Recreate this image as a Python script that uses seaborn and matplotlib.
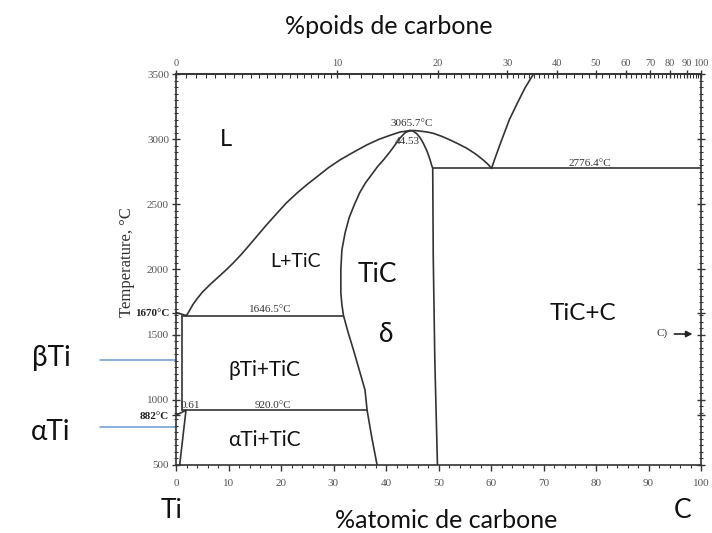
import numpy as np
import pandas as pd
import matplotlib
matplotlib.use("Agg")
import matplotlib.pyplot as plt
import seaborn as sns
from matplotlib.ticker import MultipleLocator, FixedLocator

# Ti–C phase boundaries (at.% C, temperature °C)
liquidus_at = [2.0, 2.5, 3.2, 4.0, 5.0, 6.5, 8.0, 9.5, 10.9, 12.3, 13.5, 15.4, 17.3, 19.2,
               21.0, 23.0, 24.9, 26.8, 29.0, 31.2, 33.8, 36.3, 38.6, 40.8, 42.7, 44.53]
liquidus_T = [1646.5, 1680, 1730, 1775, 1825, 1885, 1940, 1995, 2050, 2110, 2165, 2255, 2345, 2430,
              2510, 2585, 2650, 2710, 2780, 2840, 2900, 2955, 2998, 3030, 3055, 3065.7]

dome_right_at = [44.53, 45.5, 46.5, 47.8, 49.0, 50.6, 52.2, 53.8, 55.4, 57.0, 58.5, 59.4, 60.1]
dome_right_T = [3065.7, 3066, 3062, 3055, 3045, 3022, 2994, 2963, 2930, 2888, 2841, 2808, 2776.4]

graphite_liq_at = [60.1, 61.0, 62.0, 63.5, 65.0, 66.5, 68.1]
graphite_liq_T = [2776.4, 2880, 2990, 3150, 3275, 3395, 3500]

tic_left_at = [38.3, 37.3, 36.4, 36.0, 34.9, 33.8, 32.8, 31.9, 31.6, 31.4, 31.4, 31.6, 32.2, 33.0,
               34.0, 35.0, 36.1, 37.3, 38.4, 39.5, 40.7, 41.8, 42.7, 43.6, 44.53]
tic_left_T = [500, 710, 920, 1076, 1230, 1383, 1515, 1646.5, 1730, 1820, 2000, 2150, 2280, 2400,
              2500, 2590, 2665, 2730, 2790, 2840, 2900, 2960, 3010, 3048, 3065.7]

tic_right_at = [44.53, 45.2, 45.9, 46.6, 47.1, 47.8, 48.4, 48.7, 48.9, 49.0, 49.3, 49.8]
tic_right_T = [3065.7, 3062, 3040, 3005, 2969, 2910, 2841, 2800, 2776.4, 2100, 1300, 500]

eutectic_at = [48.9, 100.0]
eutectic_T = [2776.4, 2776.4]
peritectic_at = [1.1, 31.9]
peritectic_T = [1646.5, 1646.5]
peritectoid_at = [1.1, 36.4]
peritectoid_T = [920.0, 920.0]
beta_solvus_at = [1.1, 1.1]
beta_solvus_T = [1646.5, 920.0]
alpha_solvus_at = [1.9, 0.7]
alpha_solvus_T = [920.0, 500.0]
beta_transus_at = [0.0, 1.9]
beta_transus_T = [882.0, 920.0]
melt_foot_at = [0.0, 2.0]
melt_foot_T = [1670.0, 1646.5]

# reference temperatures marked beside the Ti allotrope names
beta_ref_T = 1306
alpha_ref_T = 792

boundaries = {
    "liquidus": (liquidus_at, liquidus_T),
    "dome_right": (dome_right_at, dome_right_T),
    "graphite_liq": (graphite_liq_at, graphite_liq_T),
    "tic_left": (tic_left_at, tic_left_T),
    "tic_right": (tic_right_at, tic_right_T),
    "eutectic": (eutectic_at, eutectic_T),
    "peritectic": (peritectic_at, peritectic_T),
    "peritectoid": (peritectoid_at, peritectoid_T),
    "beta_solvus": (beta_solvus_at, beta_solvus_T),
    "alpha_solvus": (alpha_solvus_at, alpha_solvus_T),
    "beta_transus": (beta_transus_at, beta_transus_T),
    "melt_foot": (melt_foot_at, melt_foot_T),
}
frames = [pd.DataFrame({"at": a, "T": t, "boundary": k}) for k, (a, t) in boundaries.items()]
df = pd.concat(frames, ignore_index=True)

sns.set_theme(style="ticks")
plt.rcParams["font.family"] = ["Lato", "DejaVu Sans"]
SERIF = ["Liberation Serif", "DejaVu Serif"]

W, H = 712, 533
fig = plt.figure(figsize=(W / 100, H / 100), dpi=100)
fig.patch.set_facecolor("white")
L, R, T0, B = 176, 701, 74, 465
ax = fig.add_axes([L / W, 1 - B / H, (R - L) / W, (B - T0) / H])
ax.set_facecolor("white")

sns.lineplot(data=df, x="at", y="T", units="boundary", estimator=None, sort=False,
             color="#333333", linewidth=1.2, ax=ax, legend=False)

ax.set_xlim(0, 100)
ax.set_ylim(500, 3500)
ax.set_xlabel("")
ax.set_ylabel("Temperature, °C", family=SERIF, fontsize=12, color="#333333")
ax.yaxis.set_label_coords(-0.078, 0.52)

for s in ax.spines.values():
    s.set_color("#333333")
    s.set_linewidth(1.2)

# bottom axis
ax.xaxis.set_major_locator(MultipleLocator(10))
ax.xaxis.set_minor_locator(MultipleLocator(2))
ax.tick_params(axis="x", which="major", direction="out", length=4, width=1, color="#333333",
               labelsize=8, labelcolor="#555555", pad=6)
ax.tick_params(axis="x", which="minor", direction="out", length=2.5, width=0.8, color="#333333")
for lbl in ax.get_xticklabels():
    lbl.set_family(SERIF)

# left axis with pure-Ti transformation temperatures
yt = [500, 882, 1000, 1500, 1670, 2000, 2500, 3000, 3500]
ytl = ["500", "882°C", "1000", "1500", "1670°C", "2000", "2500", "3000", "3500"]
ax.set_yticks(yt)
ax.set_yticklabels(ytl)
ax.yaxis.set_minor_locator(MultipleLocator(50))
ax.tick_params(axis="y", which="major", direction="inout", length=6, width=1, color="#333333",
               labelsize=8, labelcolor="#555555", pad=2, right=True)
ax.tick_params(axis="y", which="minor", direction="inout", length=3.5, width=0.8, color="#333333", right=True)
for lbl in ax.get_yticklabels():
    lbl.set_family(SERIF)
    if "°" in lbl.get_text():
        lbl.set_fontweight("bold")
        lbl.set_color("#222222")

# top axis in weight percent carbon
M_C, M_TI = 12.011, 47.867


def at_to_wt(a):
    a = np.asarray(a, float)
    return 100 * a * M_C / (a * M_C + (100 - a) * M_TI)


def wt_to_at(w):
    w = np.asarray(w, float)
    return 100 * (w / M_C) / (w / M_C + (100 - w) / M_TI)


sec = ax.secondary_xaxis("top", functions=(at_to_wt, wt_to_at))
sec.set_xticks(list(range(0, 101, 10)))
wt_minor = list(np.arange(0, 10, 0.5)) + list(range(10, 40)) + list(range(40, 100, 2))
sec.xaxis.set_minor_locator(FixedLocator(wt_minor))
sec.tick_params(axis="x", which="major", direction="inout", length=6, width=1, color="#333333",
                labelsize=7.5, labelcolor="#555555", pad=1)
sec.tick_params(axis="x", which="minor", direction="in", length=3, width=0.8, color="#333333")
sec.spines["top"].set_color("#333333")
for lbl in sec.get_xticklabels():
    lbl.set_family(SERIF)

# small serif annotations on the invariant lines
small = dict(family=SERIF, fontsize=8, color="#333333", ha="center", va="center")
ax.text(44.9, 3122, "3065.7°C", **small)
ax.text(44.1, 2981, "44.53", **small)
ax.text(78.9, 2815, "2776.4°C", **small)
ax.text(18.0, 1695, "1646.5°C", **small)
ax.text(18.5, 960, "920.0°C", **small)
ax.text(2.8, 953, "0.61", **small)
ax.text(92.5, 1511, "C)", **small)
ax.annotate("", xy=(98.9, 1505), xytext=(94.4, 1505),
            arrowprops=dict(arrowstyle="-|>", color="#222222", lw=1.2, mutation_scale=9))

# phase-field labels
big = dict(ha="center", va="center", color="#111111")
ax.text(9.5, 2994, "L", fontsize=17, **big)
ax.text(22.7, 2060, "L+TiC", fontsize=14, **big)
ax.text(38.4, 1958, "TiC", fontsize=19, **big)
ax.text(40.0, 1498, "δ", fontsize=19, **big)
ax.text(16.8, 1229, "βTi+TiC", fontsize=15, **big)
ax.text(16.8, 692, "αTi+TiC", fontsize=15, **big)
ax.text(77.6, 1659, "TiC+C", fontsize=17.5, **big)

# reference lines for the Ti allotropes
for tref in (beta_ref_T, alpha_ref_T):
    ax.plot([-14.5, 0], [tref, tref], color="#6a9bd1", lw=1.1, clip_on=False)

# figure-level captions
fig.text(51 / W, 1 - 358 / H, "βTi", fontsize=20, ha="center", va="center", color="#111111")
fig.text(51 / W, 1 - 432 / H, "αTi", fontsize=20, ha="center", va="center", color="#111111")
fig.text(172 / W, 1 - 511 / H, "Ti", fontsize=19, ha="center", va="center", color="#111111")
fig.text(683 / W, 1 - 511 / H, "C", fontsize=19, ha="center", va="center", color="#111111")
fig.text(389 / W, 1 - 27 / H, "%poids de carbone", fontsize=18, ha="center", va="center", color="#111111")
fig.text(446 / W, 1 - 520 / H, "%atomic de carbone", fontsize=18, ha="center", va="center", color="#111111")

fig.savefig("out.png", dpi=100, facecolor="white")
